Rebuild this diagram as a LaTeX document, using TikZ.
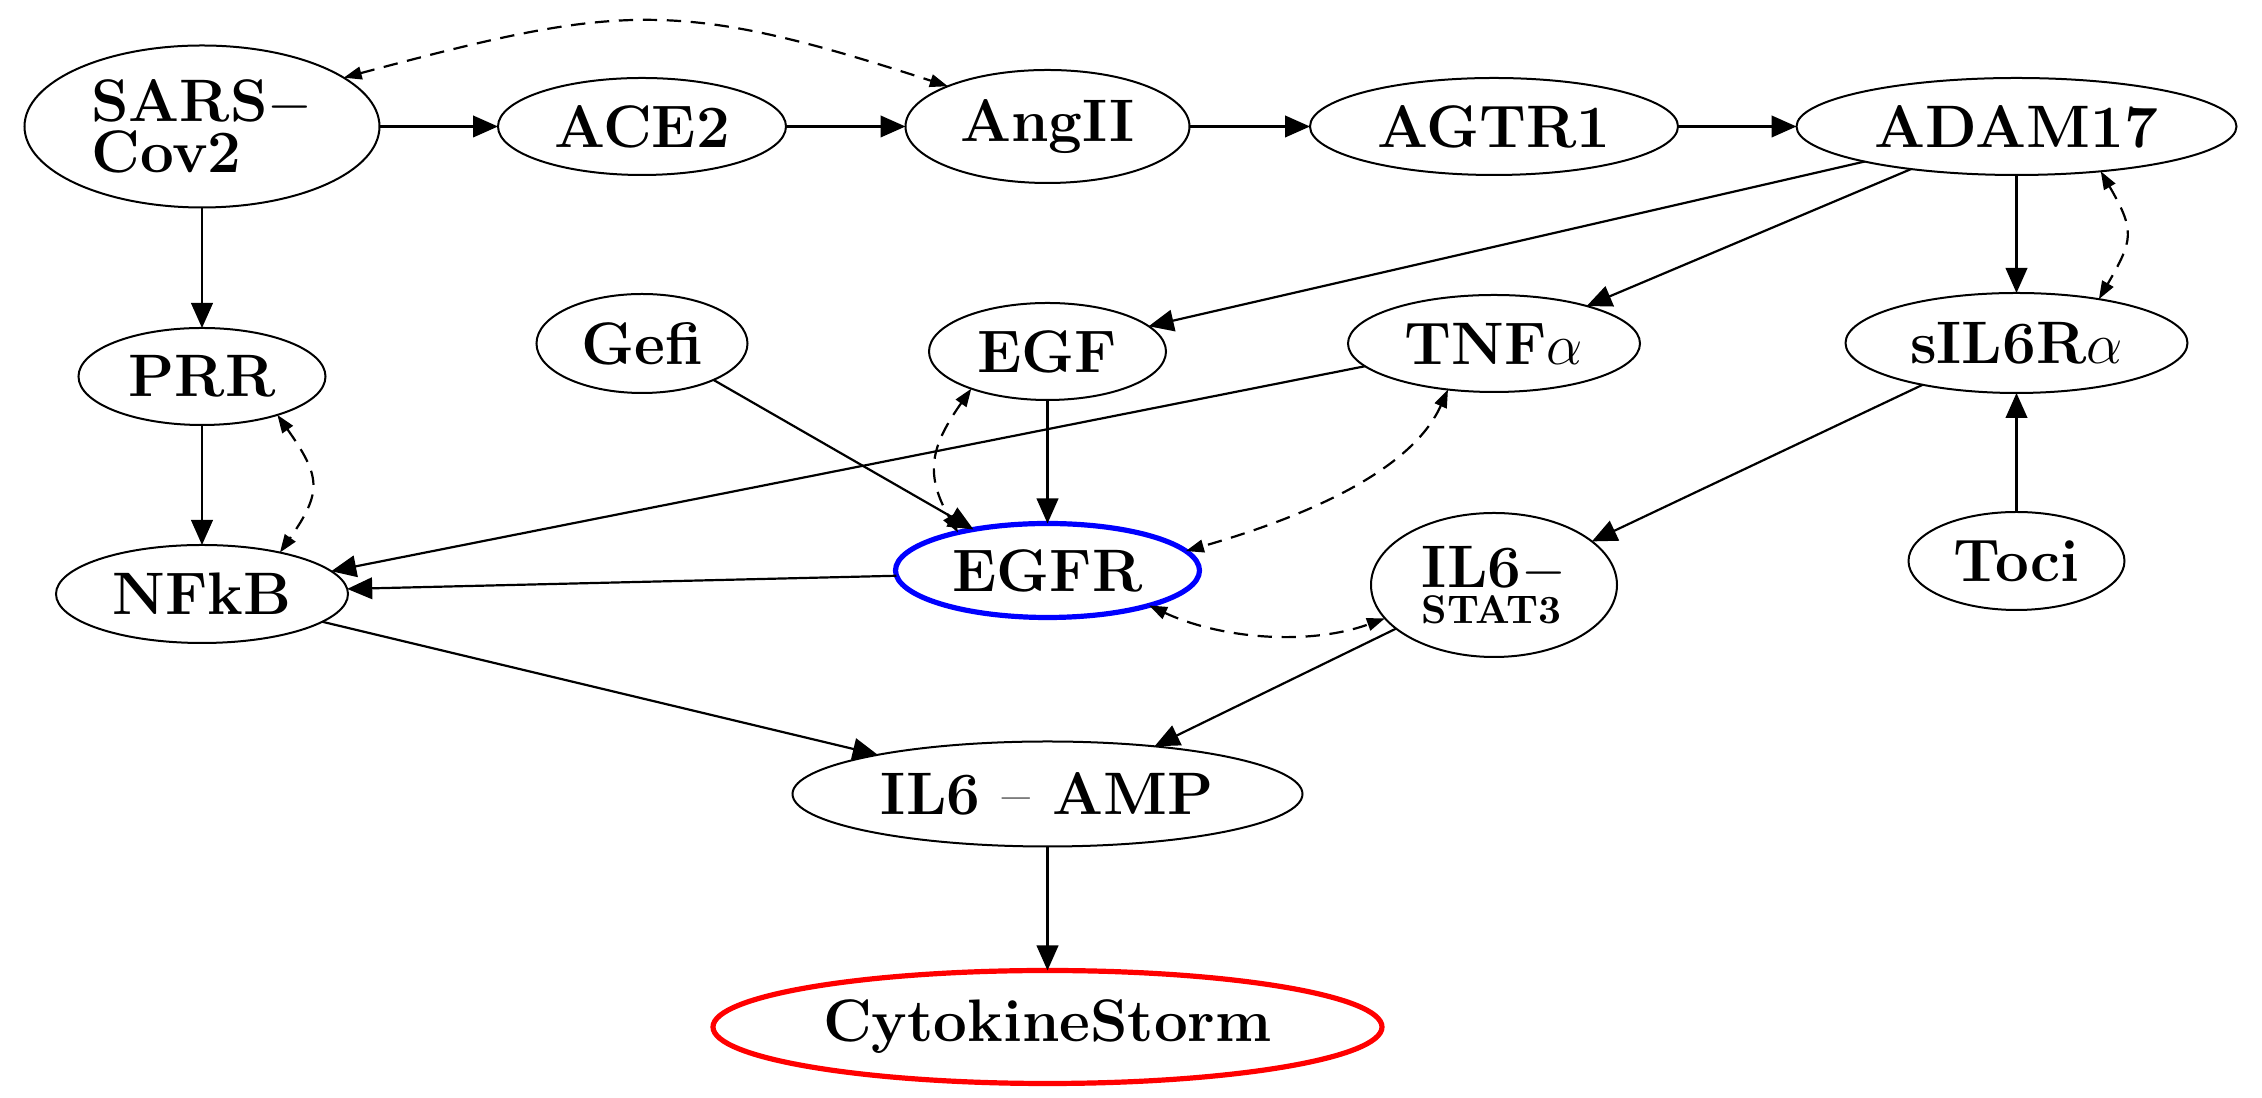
\documentclass[tikz,border=0pt]{standalone}
\usepackage{fontspec}
\usetikzlibrary{arrows.meta,shapes.geometric}
\begin{document}
\begin{tikzpicture}[x=0.25pt,y=0.25pt,
  nd/.style={ellipse, draw, line width=0.5pt, inner sep=0pt, outer sep=0pt,
    font=\fontsize{15}{11.6}\selectfont\bfseries},
  ar/.style={-{Triangle[length=6.25pt,width=5.4pt]}, line width=0.55pt},
  da/.style={{Triangle[length=4.5pt,width=3.2pt]}-{Triangle[length=4.5pt,width=3.2pt]},
    line width=0.55pt, dash pattern=on 3.6pt off 2.4pt}]
\fill[white] (0,0) rectangle (2262,-1098);
\useasboundingbox (0,0) rectangle (2262,-1098);
% nodes
\node[nd, minimum width=88.75pt, minimum height=40.5pt, align=left] (SARS) at (202,-126.5) {SARS$-$\\Cov2};
\node[nd, minimum width=72pt, minimum height=24.25pt] (ACE2) at (642,-126.5) {ACE2};
\node[nd, minimum width=71pt, minimum height=28.25pt] (AngII) at (1047.5,-126.5) {AngII};
\node[nd, minimum width=92pt, minimum height=24.25pt] (AGTR1) at (1494,-126.5) {AGTR1};
\node[nd, minimum width=110pt, minimum height=24.25pt] (ADAM17) at (2016.5,-126.5) {ADAM17};
\node[nd, minimum width=61.75pt, minimum height=24.25pt] (PRR) at (202,-376.5) {PRR};
\node[nd, minimum width=52.75pt, minimum height=24.75pt] (Gefi) at (642,-343.5) {Gefi};
\node[nd, minimum width=59.25pt, minimum height=24.25pt] (EGF) at (1047.5,-351.5) {EGF};
\node[nd, minimum width=73pt, minimum height=24.25pt] (TNF) at (1494,-343.5) {TNF$\alpha$};
\node[nd, minimum width=85.5pt, minimum height=25pt] (sIL6R) at (2016.5,-343) {sIL6R$\alpha$};
\node[nd, minimum width=73pt, minimum height=24.5pt] (NFkB) at (202,-594) {NFkB};
\node[nd, draw=blue, line width=1.3pt, minimum width=76pt, minimum height=23.5pt] (EGFR) at (1047.5,-570.5) {EGFR};
\node[nd, minimum width=61.5pt, minimum height=36pt, align=left,
  font=\fontsize{15}{8.9}\selectfont\bfseries] (STAT) at (1494,-585) {IL6$-$\\{\fontsize{10}{10}\selectfont STAT3}};
\node[nd, minimum width=54pt, minimum height=24.5pt] (Toci) at (2016.5,-561) {Toci};
\node[nd, minimum width=127.5pt, minimum height=26.25pt] (AMP) at (1047.5,-794) {IL6 {\mdseries --} AMP};
\node[nd, draw=red, line width=1.3pt, minimum width=167.25pt, minimum height=28.25pt] (Cyto) at (1047.5,-1027) {CytokineStorm};
% solid edges
\draw[ar] (SARS) -- (ACE2);
\draw[ar] (ACE2) -- (AngII);
\draw[ar] (AngII) -- (AGTR1);
\draw[ar] (AGTR1) -- (ADAM17);
\draw[ar] (SARS) -- (PRR);
\draw[ar] (PRR) -- (NFkB);
\draw[ar] (ADAM17) -- (sIL6R);
\draw[ar] (Toci) -- (sIL6R);
\draw[ar] (EGF) -- (EGFR);
\draw[ar] (AMP) -- (Cyto);
\draw[ar] (ADAM17.193) -- (EGF.14);
\draw[ar] (ADAM17.202) -- (TNF.22);
\draw[ar] (Gefi.-27) -- (EGFR.151);
\draw[ar] (TNF.190) -- (NFkB.10);
\draw[ar] (EGFR.182) -- (NFkB.2);
\draw[ar] (sIL6R.204) -- (STAT.24);
\draw[ar] (NFkB.-13) -- (AMP.167);
\draw[ar] (STAT.204) -- (AMP.24);
% dashed two-way edges
\draw[da] (SARS.19) .. controls +(15:286) and +(162:286) .. (AngII.158);
\draw[da] (ADAM17.-28) .. controls +(-60:69) and +(60:69) .. (sIL6R.28);
\draw[da] (PRR.-27) .. controls +(-55:75) and +(55:75) .. (NFkB.28);
\draw[da] (EGF.206) .. controls +(235:69) and +(120:69) .. (EGFR.157);
\draw[da] (TNF.-135) .. controls +(-114:100) and +(16:90) .. (EGFR.8);
\draw[da] (EGFR.-19) .. controls +(-25:80) and +(200:80) .. (STAT.197);
\end{tikzpicture}
\end{document}
